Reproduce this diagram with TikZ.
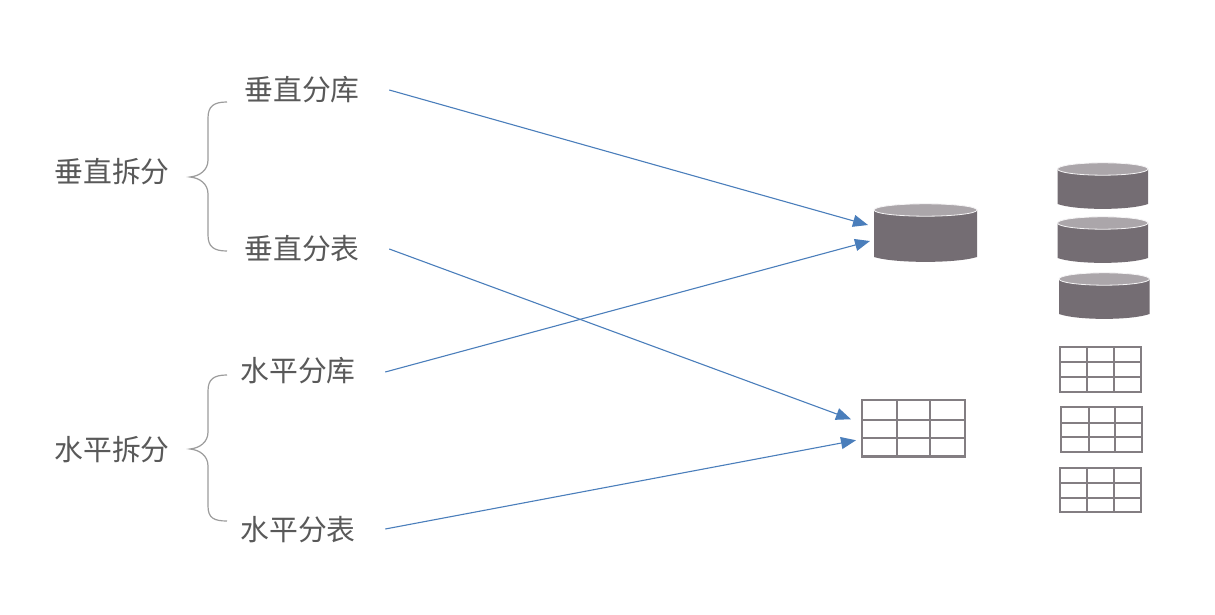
\documentclass[tikz,border=0pt]{standalone}
\usepackage{fontspec}
\setmainfont{Noto Sans CJK SC}
\usetikzlibrary{arrows.meta}
\definecolor{txt}{HTML}{595959}
\definecolor{blueline}{HTML}{4A7EBB}
\definecolor{dbbody}{HTML}{746D73}
\definecolor{dbtop}{HTML}{ABA6AA}
\definecolor{grid}{HTML}{837E82}
\definecolor{bracec}{HTML}{9C9C9C}
\tikzset{
  lbl/.style={text=txt,font=\fontsize{28.8}{28.8}\selectfont,inner sep=0pt,anchor=center},
  conn/.style={draw=blueline,line width=1.1pt,-{Triangle[length=15pt,width=12pt,fill=blueline]}},
  bracepath/.style={draw=bracec,line width=1.2pt},
  gridline/.style={draw=grid,line width=2pt},
  biggrid/.style={gridline,line width=2.8pt},
  anchorbox/.style={inner sep=0pt,outer sep=0pt},
}
% cylinder: left, right, top-ellipse centre y, body-bottom y
\newcommand{\dbcyl}[5]{%
  \node[anchorbox,minimum width=#2pt-#1pt,minimum height=#4pt-#3pt+13pt] (#5) at ({(#1+#2)/2},{(#3+#4)/2+0.5}) {};
  \fill[dbbody] (#1,#3) -- (#1,#4) .. controls ({#1+0.2*(#2-#1)},{#4+6.5}) and ({#1+0.8*(#2-#1)},{#4+6.5}) .. (#2,#4) -- (#2,#3) -- cycle;
  \fill[dbtop,draw=white!88!dbtop,line width=0.8pt] ({(#1+#2)/2},#3) ellipse ({(#2-#1)/2} and 6.2);
}
% table: x0,x1,x2,x3,y0,y1,y2,y3,name
\newcommand{\gridtab}[9]{%
  \node[anchorbox,minimum width=#4pt-#1pt,minimum height=#8pt-#5pt] (#9) at ({(#1+#4)/2},{(#5+#8)/2}) {};
  \draw[tabstyle] (#1,#5) rectangle (#4,#8);
  \draw[tabstyle] (#2,#5) -- (#2,#8) (#3,#5) -- (#3,#8) (#1,#6) -- (#4,#6) (#1,#7) -- (#4,#7);
}
\begin{document}
\begin{tikzpicture}[x=1pt,y=-1pt]
\useasboundingbox (0,0) rectangle (1215,615);
\fill[white] (0,0) rectangle (1215,615);
% labels
\node[lbl] (vsplit) at (112,172) {垂直拆分};
\node[lbl] (hsplit) at (112,450) {水平拆分};
\node[lbl] (vdb) at (302,90) {垂直分库};
\node[lbl] (vtb) at (302,249) {垂直分表};
\node[lbl] (hdb) at (298,371) {水平分库};
\node[lbl] (htb) at (298,530) {水平分表};
% braces
\draw[bracepath] (227,102) .. controls (214,102) and (208,106) .. (208,118) -- (208,160)
  .. controls (208,170) and (200,176) .. (190,177) .. controls (200,178) and (208,184) .. (208,194)
  -- (208,235) .. controls (208,247) and (214,251) .. (227,251);
\draw[bracepath] (227,375) .. controls (214,375) and (208,379) .. (208,391) -- (208,432)
  .. controls (208,442) and (200,448) .. (190,449) .. controls (200,450) and (208,456) .. (208,466)
  -- (208,506) .. controls (208,518) and (214,521) .. (227,521);
% cylinders
\dbcyl{874}{977}{210}{257}{db}
\dbcyl{1057.5}{1148}{169}{204}{dbA}
\dbcyl{1057.5}{1148}{223}{258}{dbB}
\dbcyl{1059}{1149.5}{279}{314}{dbC}
% tables
\tikzset{tabstyle/.style={biggrid}}
\gridtab{862}{897}{930}{965}{400}{420}{438}{456.5}{tb}
\tikzset{tabstyle/.style={gridline}}
\gridtab{1059.5}{1087}{1113.5}{1140.5}{346.5}{362}{377}{392}{tbA}
\gridtab{1061}{1088.5}{1115}{1142}{407}{422.5}{437}{452}{tbB}
\gridtab{1059.5}{1087}{1113.5}{1140.5}{467.5}{482.5}{497.5}{512}{tbC}
% connectors
\draw[conn] ([shift={(29.5,0)}]vdb.east) -- ([shift={(-6,-9)}]db.west);
\draw[conn] ([shift={(29.5,0)}]vtb.east) -- ([shift={(-11,-9)}]tb.west);
\draw[conn] ([shift={(29.5,1)}]hdb.east) -- ([shift={(-4,7)}]db.west);
\draw[conn] ([shift={(29.5,-1)}]htb.east) -- ([shift={(-6,12)}]tb.west);
\end{tikzpicture}
\end{document}
